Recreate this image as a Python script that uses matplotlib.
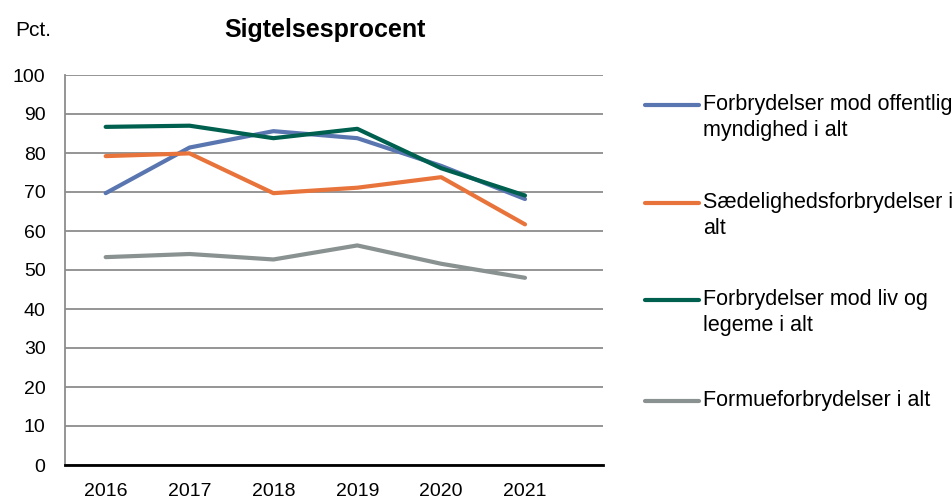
import matplotlib
matplotlib.use("Agg")
import matplotlib.pyplot as plt
from matplotlib.lines import Line2D

plt.rcParams['font.family'] = ['Liberation Sans', 'DejaVu Sans']

years = ['2016', '2017', '2018', '2019', '2020', '2021']

offentlig = [69.7, 81.4, 85.6, 83.8, 76.7, 68.2]
saedelighed = [79.2, 79.9, 69.7, 71.1, 73.8, 61.7]
liv_legeme = [86.7, 87.0, 83.8, 86.2, 76.1, 69.1]
formue = [53.3, 54.1, 52.7, 56.3, 51.6, 48.0]

labels = ['Forbrydelser mod offentlig\nmyndighed i alt',
          'Sædelighedsforbrydelser i\nalt',
          'Forbrydelser mod liv og\nlegeme i alt',
          'Formueforbrydelser i alt']
colors = ['#5A76B0', '#E8743B', '#00604F', '#8A9191']

W, H = 953, 499
fig = plt.figure(figsize=(W / 100, H / 100), dpi=100)
ax = fig.add_axes([65 / W, 1 - 465 / H, 538 / W, 390 / H])

x = range(len(years))
for vals, lab, col in zip([offentlig, saedelighed, liv_legeme, formue], labels, colors):
    ax.plot(x, vals, color=col, lw=3, label=lab, solid_capstyle='round')

ax.set_ylim(0, 100)
ax.set_xlim(-0.485, 5.93)
ax.set_yticks(range(0, 101, 10))
ax.set_xticks(list(x))
ax.set_xticklabels(years)
ax.grid(axis='y', color='#8C8C8C', lw=1.3)
ax.set_axisbelow(True)
ax.tick_params(axis='both', length=0, labelsize=14)
ax.tick_params(axis='y', pad=14)
ax.tick_params(axis='x', pad=13)

for s in ['top', 'right']:
    ax.spines[s].set_visible(False)
ax.spines['left'].set_color('#8C8C8C')
ax.spines['left'].set_linewidth(1.3)
ax.spines['bottom'].set_color('black')
ax.spines['bottom'].set_linewidth(2)

fig.text(325 / W, 1 - 30 / H, 'Sigtelsesprocent', ha='center', va='center',
         fontsize=18, fontweight='bold')
fig.text(15 / W, 1 - 31 / H, 'Pct.', ha='left', va='center', fontsize=15)

# legend, handle next to the first line of each label
entry_y = [105, 203, 300, 401]
for lab, col, yy in zip(labels, colors, entry_y):
    fy = 1 - yy / H
    fig.add_artist(Line2D([645 / W, 699 / W], [fy, fy], color=col, lw=3,
                          solid_capstyle='round', transform=fig.transFigure))
    fig.text(703 / W, 1 - (yy - 11) / H, lab, ha='left', va='top',
             fontsize=15.5, linespacing=1.3)

fig.savefig('out.png', dpi=100)
